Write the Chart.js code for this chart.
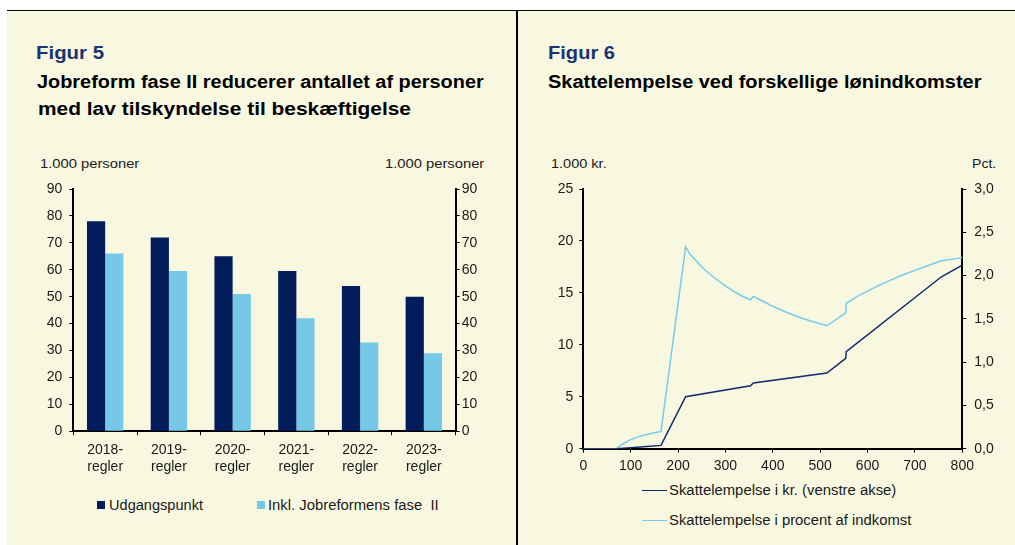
<!DOCTYPE html>
<html>
<head>
<meta charset="utf-8">
<script src="https://cdn.jsdelivr.net/npm/chart.js@4/dist/chart.umd.min.js"></script>
<style>
  html, body { margin:0; padding:0; background:#fff; width:1015px; height:545px; overflow:hidden; }
  body { position:relative; font-family:"Liberation Sans", Arial, sans-serif; color:#111; }
  .bg { position:absolute; left:7px; top:10px; width:1008px; height:535px; background:#F8F8E1; border-top:1px solid #000; box-sizing:border-box; }
  .vline { position:absolute; left:516px; top:10px; width:2px; height:535px; background:#000; }
  .t { position:absolute; white-space:pre; line-height:1; transform-origin:0 0; }
  .fig { font-weight:bold; color:#1A3473; font-size:18.5px; }
  .ttl { font-weight:bold; color:#000; font-size:17.5px; }
  .ax { font-size:13.5px; color:#1a1a1a; }
  .lg { font-size:14px; color:#1a1a1a; }
  .box { position:absolute; }
  .sw { position:absolute; }
</style>
</head>
<body>
<div class="bg"></div>
<div class="vline"></div>

<div class="t fig" id="fig5" data-x="35.5" data-b="60" data-w="68"></div>
<div class="t ttl" id="t5a" data-x="37.3" data-b="89" data-w="446.7"></div>
<div class="t ttl" id="t5b" data-x="37.5" data-b="116" data-w="373"></div>
<div class="t ax" id="u5l" data-x="40" data-b="168.3" data-w="99.3"></div>
<div class="t ax" id="u5r" data-x="385" data-b="168.3" data-w="99.3"></div>

<div class="t fig" id="fig6" data-x="548.3" data-b="60" data-w="67"></div>
<div class="t ttl" id="t6a" data-x="548.3" data-b="88.5" data-w="433.4"></div>
<div class="t ax" id="u6l" data-x="551" data-b="168.3" data-w="55.7"></div>
<div class="t ax" id="u6r" data-x="971.7" data-b="168.3" data-w="24.3"></div>

<div class="box" style="left:7px;top:150px;width:508px;height:330px;"><canvas id="c1"></canvas></div>
<div class="box" style="left:518px;top:150px;width:497px;height:330px;"><canvas id="c2"></canvas></div>

<div id="leg1"></div>
<div id="leg2"></div>

<script>
// ---------- Figur 5 data ----------
const fig5Label = 'Figur 5';
const fig5Title = ['Jobreform fase II reducerer antallet af personer', 'med lav tilskyndelse til beskæftigelse'];
const fig5Unit = '1.000 personer';
const barYears = ['2018-', '2019-', '2020-', '2021-', '2022-', '2023-'];
const barSuffix = 'regler';
const seriesNames5 = ['Udgangspunkt', 'Inkl. Jobreformens fase  II'];
const udgangspunkt = [78, 72, 65, 59.5, 54, 50];
const inklFaseII = [66, 59.5, 51, 42, 33, 29];

// ---------- Figur 6 data ----------
const fig6Label = 'Figur 6';
const fig6Title = 'Skattelempelse ved forskellige lønindkomster';
const fig6UnitLeft = '1.000 kr.';
const fig6UnitRight = 'Pct.';
const seriesNames6 = ['Skattelempelse i kr. (venstre akse)', 'Skattelempelse i procent af indkomst'];
const kronerX = [0, 70, 100, 134, 164, 216, 353, 359, 514, 554, 555, 756, 800];
const kronerY = [0, 0, 0.1, 0.22, 0.32, 5.0, 6.06, 6.32, 7.29, 8.7, 9.34, 16.55, 17.68];
const procentX = [0, 70, 85, 102, 120, 134, 150, 164, 216, 225, 240, 250, 260, 280, 300, 320, 340, 353, 359, 380, 400, 425, 450, 480, 514, 554, 555, 580, 600, 625, 650, 675, 700, 725, 756, 780, 800];
const procentY = [0, 0, 0.06, 0.11, 0.145, 0.165, 0.185, 0.2, 2.33, 2.25, 2.16, 2.10, 2.05, 1.96, 1.88, 1.81, 1.75, 1.72, 1.76, 1.70, 1.645, 1.585, 1.53, 1.475, 1.42, 1.57, 1.68, 1.765, 1.82, 1.89, 1.95, 2.01, 2.06, 2.11, 2.17, 2.19, 2.21];

// ---------- styles ----------
const NAVY = '#021B5B';
const LIGHT = '#75C9E7';
const LINE_NAVY = '#13296D';
const LINE_LIGHT = '#77CBEA';
const FONT = '"Liberation Sans", Arial, sans-serif';
const TICKCOL = '#1a1a1a';

// ---------- html text ----------
document.getElementById('fig5').textContent = fig5Label;
document.getElementById('t5a').textContent = fig5Title[0];
document.getElementById('t5b').textContent = fig5Title[1];
document.getElementById('u5l').textContent = fig5Unit;
document.getElementById('u5r').textContent = fig5Unit;
document.getElementById('fig6').textContent = fig6Label;
document.getElementById('t6a').textContent = fig6Title;
document.getElementById('u6l').textContent = fig6UnitLeft;
document.getElementById('u6r').textContent = fig6UnitRight;

function mkText(parent, cls, txt, x, b, w) {
  const d = document.createElement('div');
  d.className = 't ' + cls; d.textContent = txt;
  d.dataset.x = x; d.dataset.b = b; d.dataset.w = w;
  parent.appendChild(d);
}
function mkRect(parent, x, y, w, h, col) {
  const d = document.createElement('div');
  d.className = 'sw';
  d.style.cssText = `left:${x}px;top:${y}px;width:${w}px;height:${h}px;background:${col};`;
  parent.appendChild(d);
}
const leg1 = document.getElementById('leg1');
mkRect(leg1, 97, 501, 8, 8, NAVY);
mkText(leg1, 'lg', seriesNames5[0], 109, 510, 94);
mkRect(leg1, 257, 501, 8, 8, LIGHT);
mkText(leg1, 'lg', seriesNames5[1], 268, 510, 170.7);
const leg2 = document.getElementById('leg2');
mkRect(leg2, 642, 489.5, 25, 1.5, LINE_NAVY);
mkText(leg2, 'lg', seriesNames6[0], 669, 495, 227.3);
mkRect(leg2, 642, 519.5, 25, 1.5, LINE_LIGHT);
mkText(leg2, 'lg', seriesNames6[1], 669, 525, 242.3);

document.querySelectorAll('.t').forEach(el => {
  const fs = parseFloat(getComputedStyle(el).fontSize);
  el.style.left = el.dataset.x + 'px';
  el.style.top = (parseFloat(el.dataset.b) - 0.8465 * fs) + 'px';
  const w = el.getBoundingClientRect().width;
  if (el.dataset.w && w > 0) el.style.transform = 'scaleX(' + (parseFloat(el.dataset.w) / w) + ')';
});

// ---------- shared axis styling ----------
function axisStyle(extra) {
  return Object.assign({
    grid: { display: true, drawOnChartArea: false, drawTicks: true, tickLength: 4, color: '#000', lineWidth: 1 },
    border: { display: true, color: '#000', width: 2 },
  }, extra);
}
const tickFont = { family: FONT, size: 14, lineHeight: 1.22 };

// ---------- Figur 5 chart ----------
new Chart(document.getElementById('c1'), {
  type: 'bar',
  data: {
    labels: barYears.map(y => [y, barSuffix]),
    datasets: [
      { label: seriesNames5[0], data: udgangspunkt, backgroundColor: NAVY, yAxisID: 'y' },
      { label: seriesNames5[1], data: inklFaseII, backgroundColor: LIGHT, yAxisID: 'y' },
    ]
  },
  options: {
    responsive: true, maintainAspectRatio: false, animation: false,
    datasets: { bar: { categoryPercentage: 0.571, barPercentage: 1.0 } },
    layout: { padding: { top: 39, left: 0, right: 0, bottom: 0 } },
    plugins: { legend: { display: false }, tooltip: { enabled: false } },
    scales: {
      x: axisStyle({
        ticks: { font: tickFont, color: TICKCOL, padding: 6, maxRotation: 0, autoSkip: false },
        afterFit: s => { s.height = 48.7; }
      }),
      y: axisStyle({
        position: 'left', min: 0, max: 90,
        ticks: { stepSize: 10, font: tickFont, color: TICKCOL, padding: 7 },
        afterFit: s => { s.width = 66.3; }
      }),
      y2: axisStyle({
        position: 'right', min: 0, max: 90,
        ticks: { stepSize: 10, font: tickFont, color: TICKCOL, padding: 2 },
        afterFit: s => { s.width = 59.3; }
      }),
    }
  }
});

// ---------- Figur 6 chart ----------
new Chart(document.getElementById('c2'), {
  type: 'line',
  data: {
    datasets: [
      { label: seriesNames6[0], data: kronerX.map((x, i) => ({ x, y: kronerY[i] })), borderColor: LINE_NAVY, borderWidth: 1.5, pointRadius: 0, tension: 0, yAxisID: 'y' },
      { label: seriesNames6[1], data: procentX.map((x, i) => ({ x, y: procentY[i] })), borderColor: LINE_LIGHT, borderWidth: 1.5, pointRadius: 0, tension: 0, yAxisID: 'y2' },
    ]
  },
  options: {
    responsive: true, maintainAspectRatio: false, animation: false,
    layout: { padding: { top: 39, left: 0, right: 0, bottom: 0 } },
    plugins: { legend: { display: false }, tooltip: { enabled: false } },
    scales: {
      x: axisStyle({
        type: 'linear', min: 0, max: 800,
        ticks: { stepSize: 100, font: tickFont, color: TICKCOL, padding: 5, maxRotation: 0 },
        afterFit: s => { s.height = 31.3; }
      }),
      y: axisStyle({
        position: 'left', min: 0, max: 25,
        ticks: { stepSize: 5, font: tickFont, color: TICKCOL, padding: 6 },
        afterFit: s => { s.width = 65.3; }
      }),
      y2: axisStyle({
        position: 'right', min: 0, max: 3,
        ticks: { stepSize: 0.5, font: tickFont, color: TICKCOL, padding: 8,
                 callback: v => v.toFixed(1).replace('.', ',') },
        afterFit: s => { s.width = 52.7; }
      }),
    }
  }
});
</script>
</body>
</html>
